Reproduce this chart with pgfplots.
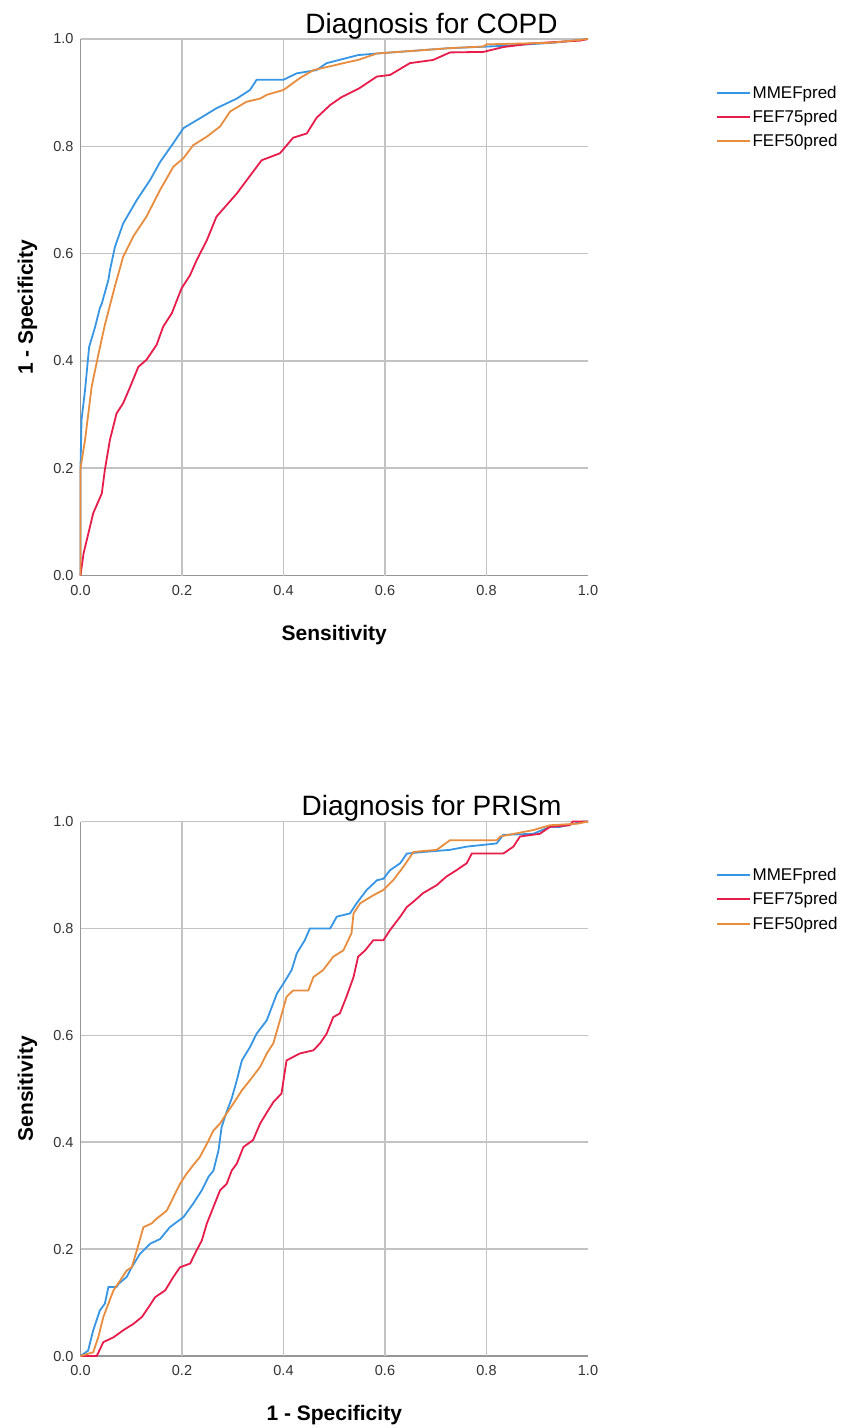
\documentclass[border=0pt]{standalone}
\usepackage{pgfplots}
\pgfplotsset{compat=1.18}
\usepackage{fontspec}
\setmainfont{Liberation Sans}
\definecolor{cblue}{RGB}{55,150,228}
\definecolor{cred}{RGB}{232,28,75}
\definecolor{corange}{RGB}{232,140,62}
\definecolor{cgrid}{RGB}{195,195,195}
\definecolor{caxis}{RGB}{150,150,150}
\newcommand{\labfont}{\bfseries\fontsize{21}{24}\selectfont}
\pgfplotsset{
  rocaxis/.style={
    scale only axis, width=507.5pt, height=536.5pt,
    xmin=0, xmax=1, ymin=0, ymax=1,
    axis x line=bottom, axis y line=left,
    axis line style={caxis, line width=1.6pt, -},
    xtick={0,0.2,...,1.0}, ytick={0,0.2,...,1.0},
    major tick length=0pt,
    ymajorgrids=true,
    extra x ticks={0.2,0.4,0.6,0.8}, extra x tick labels={},
    extra x tick style={grid=major},
    grid style={cgrid, line width=1.5pt},
    /pgf/number format/.cd, fixed, fixed zerofill, precision=1, assume math mode=true,
    /pgfplots/.cd,
    ticklabel style={font=\fontsize{14.5}{16}\selectfont, text=black!80},
    xticklabel style={yshift=-6pt},
    yticklabel style={xshift=-3.5pt},
    every axis x label/.style={at={(axis description cs:0.5,0)}, anchor=base, yshift=-64.5pt, font=\labfont},
    every axis y label/.style={at={(axis description cs:-0.0936,0.5)}, rotate=90, anchor=base, font=\labfont},
    legend style={at={(1.252,1)}, anchor=north west, yshift=-45pt, draw=none, fill=none,
      font=\fontsize{17}{19}\selectfont, row sep=7.5pt, inner sep=0pt,
      nodes={inner sep=1.5pt}, cells={anchor=west}},
    legend image code/.code={\draw[#1, line width=2pt] (0pt,0pt) -- (33pt,0pt);},
    every axis plot/.append style={line width=1.8pt},
    clip=false,
  }
}
\begin{document}
\begin{tikzpicture}[x=1pt,y=1pt]
\path[use as bounding box] (0,0) rectangle (842,-1428);
\begin{axis}[rocaxis, at={(80.5pt,-575.5pt)}, anchor=south west,
  xlabel={Sensitivity}, ylabel={1 - Specificity}]
\addplot[cblue] coordinates {(0,0) (0,0.20) (0.002,0.29) (0.009,0.346) (0.017,0.426) (0.029,0.464) (0.038,0.498) (0.042,0.507) (0.055,0.551) (0.058,0.569) (0.068,0.613) (0.084,0.656) (0.111,0.700) (0.137,0.737) (0.157,0.771) (0.183,0.806) (0.203,0.834) (0.235,0.852) (0.268,0.871) (0.308,0.889) (0.334,0.905) (0.347,0.924) (0.400,0.924) (0.426,0.936) (0.465,0.942) (0.485,0.955) (0.547,0.970) (0.584,0.973) (0.728,0.983) (0.827,0.987) (0.932,0.993) (1,1)};
\addlegendentry{MMEFpred}
\addplot[cred] coordinates {(0,0) (0.006,0.041) (0.025,0.116) (0.042,0.153) (0.048,0.197) (0.058,0.253) (0.071,0.302) (0.084,0.321) (0.098,0.352) (0.114,0.389) (0.130,0.402) (0.150,0.430) (0.163,0.464) (0.180,0.489) (0.199,0.535) (0.216,0.560) (0.229,0.588) (0.249,0.625) (0.268,0.669) (0.308,0.712) (0.334,0.745) (0.357,0.774) (0.393,0.787) (0.419,0.816) (0.446,0.824) (0.465,0.853) (0.492,0.877) (0.515,0.892) (0.549,0.908) (0.584,0.930) (0.610,0.933) (0.649,0.955) (0.695,0.961) (0.728,0.975) (0.794,0.976) (0.833,0.985) (0.892,0.992) (0.984,0.997) (1,1)};
\addlegendentry{FEF75pred}
\addplot[corange] coordinates {(0,0) (0,0.20) (0.009,0.253) (0.022,0.352) (0.035,0.411) (0.048,0.467) (0.068,0.540) (0.084,0.594) (0.104,0.632) (0.130,0.669) (0.157,0.719) (0.183,0.762) (0.203,0.778) (0.222,0.802) (0.249,0.818) (0.275,0.837) (0.295,0.865) (0.327,0.883) (0.354,0.889) (0.367,0.896) (0.400,0.905) (0.432,0.927) (0.459,0.942) (0.505,0.952) (0.518,0.955) (0.547,0.961) (0.584,0.973) (0.728,0.983) (0.794,0.986) (0.80,0.990) (0.928,0.993) (1,1)};
\addlegendentry{FEF50pred}
\end{axis}
\node[anchor=base, font=\fontsize{28}{30}\selectfont] at (431.5,-33) {Diagnosis for COPD};
\begin{axis}[rocaxis, at={(80.5pt,-1356pt)}, anchor=south west, height=534.5pt,
  xlabel={1 - Specificity}, ylabel={Sensitivity}]
\addplot[cblue] coordinates {(0,0) (0.015,0.010) (0.025,0.048) (0.038,0.085) (0.048,0.098) (0.055,0.129) (0.071,0.129) (0.075,0.135) (0.091,0.148) (0.101,0.166) (0.117,0.191) (0.137,0.210) (0.157,0.219) (0.176,0.241) (0.203,0.260) (0.222,0.285) (0.239,0.310) (0.252,0.335) (0.262,0.347) (0.272,0.385) (0.278,0.428) (0.288,0.457) (0.298,0.482) (0.308,0.516) (0.318,0.553) (0.334,0.578) (0.347,0.603) (0.367,0.628) (0.387,0.678) (0.400,0.697) (0.416,0.722) (0.426,0.753) (0.442,0.778) (0.452,0.800) (0.492,0.800) (0.505,0.822) (0.531,0.828) (0.544,0.847) (0.564,0.872) (0.584,0.890) (0.597,0.893) (0.610,0.909) (0.630,0.922) (0.643,0.940) (0.675,0.943) (0.728,0.947) (0.761,0.953) (0.820,0.959) (0.833,0.975) (0.892,0.977) (0.925,0.990) (0.945,0.990) (0.991,1.0) (1,1)};
\addlegendentry{MMEFpred}
\addplot[cred] coordinates {(0,0) (0.032,0) (0.045,0.026) (0.065,0.035) (0.084,0.048) (0.104,0.060) (0.121,0.073) (0.134,0.091) (0.147,0.110) (0.167,0.123) (0.183,0.148) (0.196,0.166) (0.216,0.173) (0.229,0.198) (0.239,0.216) (0.249,0.248) (0.262,0.279) (0.275,0.310) (0.288,0.322) (0.298,0.347) (0.308,0.360) (0.321,0.391) (0.340,0.404) (0.354,0.435) (0.370,0.460) (0.380,0.475) (0.396,0.491) (0.406,0.553) (0.432,0.566) (0.459,0.572) (0.472,0.585) (0.485,0.603) (0.498,0.634) (0.511,0.641) (0.524,0.672) (0.538,0.709) (0.547,0.747) (0.561,0.759) (0.577,0.778) (0.597,0.778) (0.610,0.797) (0.630,0.822) (0.643,0.840) (0.656,0.850) (0.675,0.866) (0.702,0.881) (0.721,0.897) (0.741,0.909) (0.761,0.922) (0.771,0.940) (0.833,0.940) (0.853,0.953) (0.866,0.972) (0.905,0.977) (0.925,0.990) (0.964,0.993) (0.97,1.0) (1,1)};
\addlegendentry{FEF75pred}
\addplot[corange] coordinates {(0,0) (0.025,0.007) (0.035,0.035) (0.045,0.073) (0.055,0.098) (0.065,0.123) (0.078,0.141) (0.091,0.160) (0.101,0.166) (0.111,0.198) (0.124,0.241) (0.140,0.248) (0.150,0.257) (0.170,0.272) (0.183,0.297) (0.196,0.322) (0.209,0.341) (0.222,0.357) (0.235,0.372) (0.249,0.397) (0.262,0.422) (0.275,0.435) (0.288,0.454) (0.301,0.472) (0.318,0.497) (0.334,0.516) (0.354,0.541) (0.367,0.566) (0.380,0.585) (0.393,0.628) (0.406,0.672) (0.419,0.684) (0.449,0.684) (0.459,0.709) (0.478,0.722) (0.498,0.747) (0.518,0.759) (0.534,0.791) (0.538,0.828) (0.551,0.847) (0.577,0.862) (0.597,0.872) (0.616,0.890) (0.636,0.915) (0.656,0.943) (0.702,0.947) (0.728,0.965) (0.820,0.965) (0.827,0.972) (0.892,0.984) (0.925,0.993) (0.98,0.996) (1,1)};
\addlegendentry{FEF50pred}
\end{axis}
\node[anchor=base, font=\fontsize{28}{30}\selectfont] at (431.5,-815) {Diagnosis for PRISm};
\end{tikzpicture}
\end{document}
